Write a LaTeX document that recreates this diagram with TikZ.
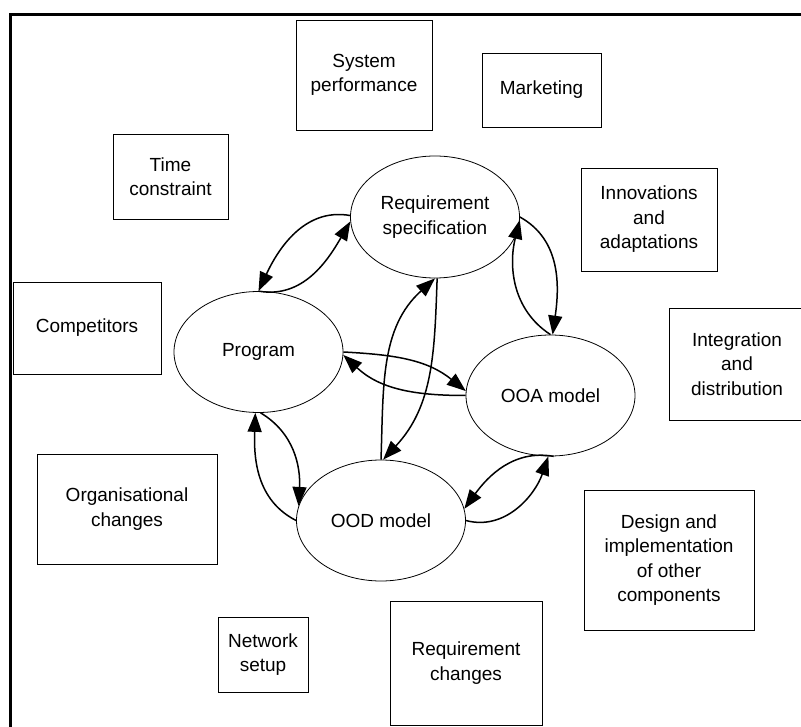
\documentclass[tikz,border=0pt]{standalone}
\usepackage{fontspec}
\setmainfont{Liberation Sans}
\usetikzlibrary{shapes.geometric,arrows.meta}
\begin{document}
\begin{tikzpicture}[x=1pt,y=1pt,
  every node/.style={font=\fontsize{19}{24.5}\selectfont, align=center, inner sep=0pt},
  factor/.style={draw, line width=0.8pt, rectangle},
  phase/.style={draw, line width=0.8pt, ellipse, minimum width=169pt, minimum height=121pt},
  link/.style={line width=1.5pt, -{Triangle[length=19pt,width=14pt]}}
]
\clip (0,0) rectangle (801,-727);
\draw[line width=3pt] (10,-15) rectangle (810,-740);

% surrounding factors
\node[factor, minimum width=136pt, minimum height=110pt] (sysperf) at (364,-75) {System\\performance};
\node[factor, minimum width=119pt, minimum height=74pt] (market) at (541.5,-90) {Marketing};
\node[factor, minimum width=115pt, minimum height=85pt] (timec) at (170.5,-176.5) {Time\\constraint};
\node[factor, minimum width=136pt, minimum height=103pt] (innov) at (649,-219.5) {Innovations\\and\\adaptations};
\node[factor, minimum width=148pt, minimum height=92pt] (compet) at (87,-328) {Competitors};
\node[factor, minimum width=136pt, minimum height=112pt] (integ) at (737,-364) {Integration\\and\\distribution};
\node[factor, minimum width=180pt, minimum height=110pt] (orgch) at (127,-509) {Organisational\\changes};
\node[factor, minimum width=170pt, minimum height=140pt] (design) at (669,-560) {Design and\\implementation\\of other\\components};
\node[factor, minimum width=90pt, minimum height=75pt] (netw) at (263,-654.5) {Network\\setup};
\node[factor, minimum width=152pt, minimum height=124pt] (reqch) at (466,-663) {Requirement\\changes};

% development phases
\node[phase, minimum height=122pt] (rs) at (435,-217) {Requirement\\specification};
\node[phase] (prog) at (258.5,-352) {Program};
\node[phase] (ooa) at (550.5,-395.5) {OOA model};
\node[phase] (ood) at (381,-520.5) {OOD model};

% connectors
\draw[link] (rs.179) to[out=170,in=65] (prog.90);
\draw[link] (prog.90) to[out=-10,in=240] (rs.183);
\draw[link] (prog.0) to[out=-3,in=141] (ooa.177);
\draw[link] (ooa.180) to[out=180,in=-43] (prog.-2);
\draw[link] (ood.90) to[out=88,in=222] (rs.-90);
\draw[link] (rs.-88) to[out=-92,in=47] (ood.88);
\draw[link] (rs.0) to[out=-29,in=82] (ooa.88);
\draw[link] (ooa.90) to[out=147,in=256] (rs.-2);
\draw[link] (ood.180) to[out=153,in=268] (prog.267);
\draw[link] (prog.-88) to[out=-31,in=87] (ood.170);
\draw[link] (ooa.-87) to[out=170,in=54] (ood.8);
\draw[link] (ood.0) to[out=-15,in=251] (ooa.-92);
\end{tikzpicture}
\end{document}
